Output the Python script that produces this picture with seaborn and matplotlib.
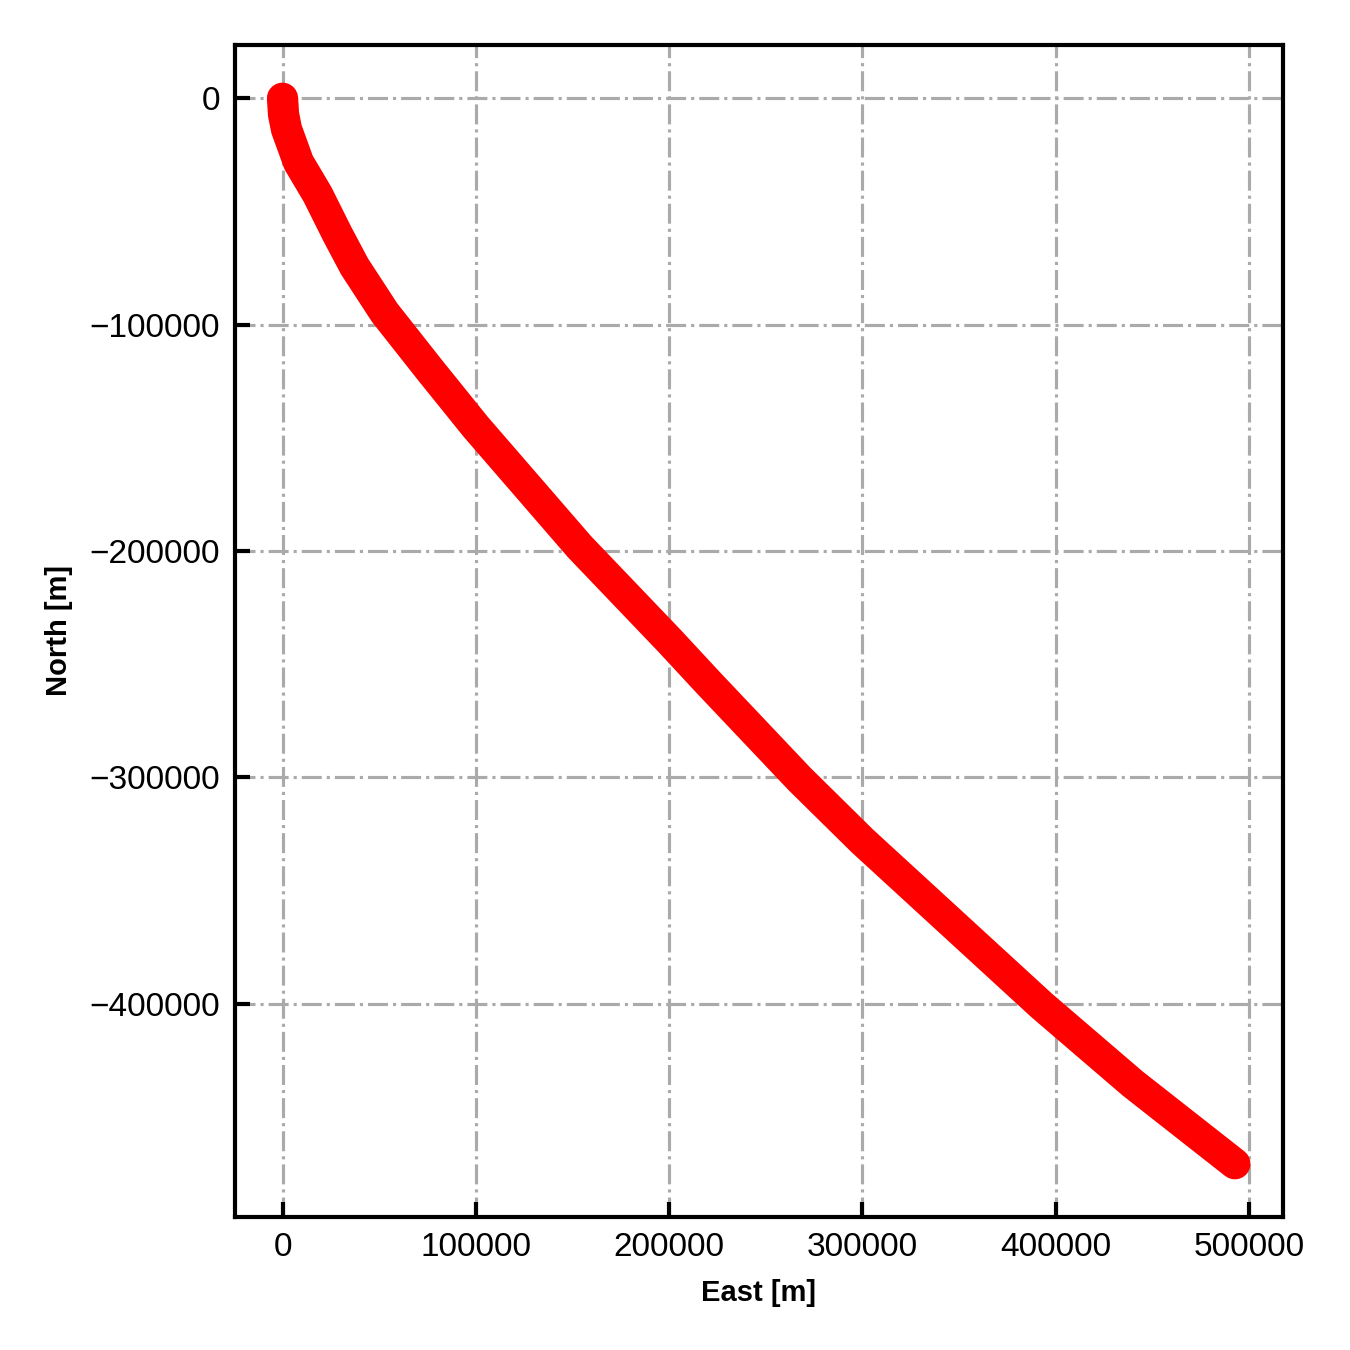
import seaborn as sns
import matplotlib.pyplot as plt
import pandas as pd

# Trajectory points (metres)
east = [0, 520, 2070, 8280, 18120, 28470, 37270, 52800, 76090,
        99900, 153730, 200310, 220500, 267600, 300210, 392860, 439960, 492750]
north = [0, -7080, -13720, -28320, -42480, -60180, -74340, -94690, -119910,
         -145130, -198230, -239820, -258410, -300890, -328320, -400890, -435400, -470800]

df = pd.DataFrame({"East": east, "North": north})

sns.set_style("ticks")
plt.rcParams["font.family"] = ["Liberation Sans", "DejaVu Sans"]
plt.rcParams.update({
    "axes.linewidth": 1.0,
    "axes.edgecolor": "black",
    "text.color": "black",
    "axes.labelcolor": "black",
    "xtick.color": "black",
    "ytick.color": "black",
})

fig, ax = plt.subplots(figsize=(4.5, 4.5), dpi=300)
fig.subplots_adjust(left=0.174, right=0.950, bottom=0.0985, top=0.9667)

sns.lineplot(data=df, x="East", y="North", sort=False, color="red",
             linewidth=7.5, solid_capstyle="round", solid_joinstyle="round", ax=ax)

ax.grid(True, linestyle="-.", color="#aaaaaa", linewidth=0.75)
ax.set_axisbelow(True)
ax.tick_params(direction="in", length=3.5, width=1.0, labelsize=8,
               top=False, right=False)
ax.ticklabel_format(style="plain", useOffset=False)
ax.set_xticks([0, 100000, 200000, 300000, 400000, 500000])
ax.set_yticks([0, -100000, -200000, -300000, -400000])
ax.set_xlabel("East [m]", fontsize=7, fontweight="bold", labelpad=4)
ax.set_ylabel("North [m]", fontsize=7, fontweight="bold", labelpad=4)

fig.savefig("out.png", dpi=300)
